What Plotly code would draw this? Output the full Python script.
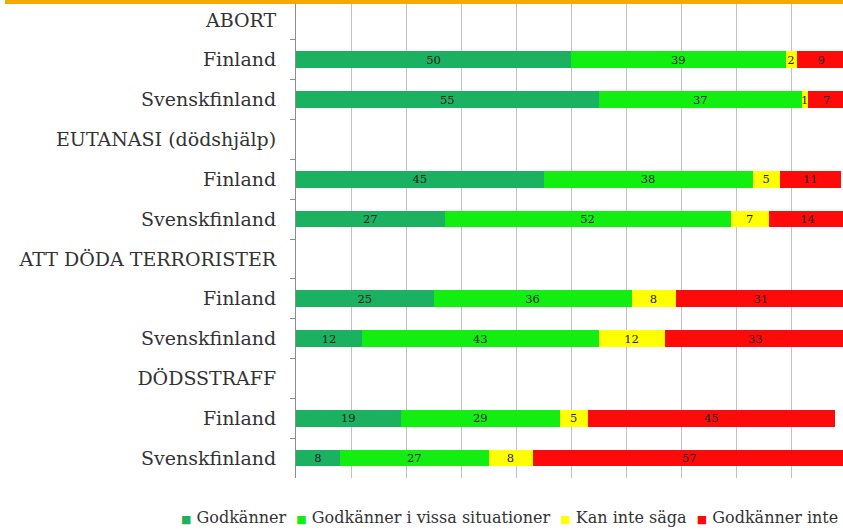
import plotly.graph_objects as go

# rows top to bottom; header rows carry no bars
rows = ["ABORT", "Finland", "Svenskfinland",
        "EUTANASI (dödshjälp)", "Finland", "Svenskfinland",
        "ATT DÖDA TERRORISTER", "Finland", "Svenskfinland",
        "DÖDSSTRAFF", "Finland", "Svenskfinland"]

godkanner = [None, 50, 55, None, 45, 27, None, 25, 12, None, 19, 8]
vissa = [None, 39, 37, None, 38, 52, None, 36, 43, None, 29, 27]
kan_inte = [None, 2, 1, None, 5, 7, None, 8, 12, None, 5, 8]
inte = [None, 9, 7, None, 11, 14, None, 31, 33, None, 45, 57]

series = [
    ("Godkänner", godkanner, "#1cb061"),
    ("Godkänner i vissa situationer", vissa, "#12ee12"),
    ("Kan inte säga", kan_inte, "#ffff00"),
    ("Godkänner inte", inte, "#ff0a0a"),
]

pos = list(range(len(rows)))

fig = go.Figure()
for name, vals, col in series:
    fig.add_trace(go.Bar(
        y=pos, x=vals, name=name, orientation="h",
        marker=dict(color=col, line=dict(width=0)),
        text=vals, texttemplate="%{x}", textposition="inside",
        insidetextanchor="middle", textangle=0, constraintext="none",
        textfont=dict(family="DejaVu Serif", size=11.5, color="#222222"),
        showlegend=False,
    ))

# compact legend like the original (small squares right before the text)
gap = "&nbsp;" * 2
legend_text = gap.join(
    f"<span style='color:{col};font-size:11px'>■</span>&nbsp;{name}"
    for name, _, col in series
)

fig.update_layout(
    barmode="stack",
    bargap=0.58,
    width=843, height=531,
    margin=dict(l=296, r=0, t=0, b=53, autoexpand=False),
    plot_bgcolor="white", paper_bgcolor="white",
    font=dict(family="DejaVu Serif", color="#333333"),
    annotations=[dict(text=legend_text, xref="paper", yref="paper",
                      x=-0.2139, xanchor="left", y=-0.082, yanchor="middle",
                      showarrow=False, font=dict(size=16, color="#333333"))],
    shapes=[dict(type="line", xref="paper", yref="paper",
                 x0=-0.532, x1=1, y0=0.996, y1=0.996,
                 line=dict(color="#f2aa00", width=4))],
)

fig.update_xaxes(range=[0, 99.45], dtick=10, showgrid=True, gridcolor="#c2c2c2",
                 gridwidth=1, showticklabels=False, zeroline=False, showline=False,
                 automargin=False)
fig.update_yaxes(tickvals=pos, ticktext=rows, range=[len(rows) - 0.5, -0.5],
                 tickfont=dict(size=19, color="#333333"), ticks="",
                 ticklabelstandoff=15, automargin=False,
                 showline=True, linecolor="#8c8c8c", linewidth=1, showgrid=False,
                 zeroline=False,
                 minor=dict(tickvals=[p + 0.5 for p in pos[:-1]], ticks="outside",
                            ticklen=5, tickcolor="#8c8c8c", showgrid=False))

# drop the browser's default page margin so the figure sits at the top-left corner
fig.write_html("out.html", config={"displayModeBar": False},
               post_script="document.body.style.margin = '0';")
